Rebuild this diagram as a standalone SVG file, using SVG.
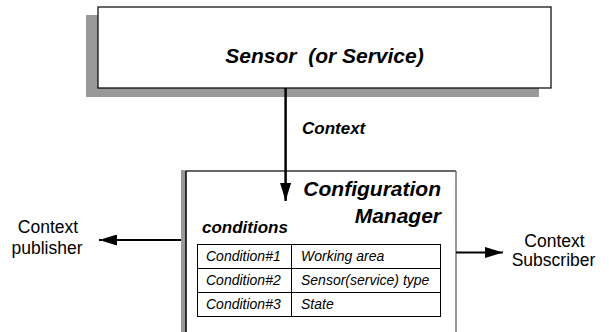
<svg xmlns="http://www.w3.org/2000/svg" width="609" height="332" viewBox="0 0 609 332">
<defs>
<style>
.bi{font-family:"Liberation Sans",Arial,sans-serif;font-weight:bold;font-style:italic;fill:#000}
.it{font-family:"Liberation Sans",Arial,sans-serif;font-style:italic;font-size:14px;fill:#000}
.rg{font-family:"Liberation Sans",Arial,sans-serif;font-size:17.5px;fill:#000}
.cell{fill:none;stroke:#000;stroke-width:1}
.conn{stroke:#000;stroke-width:2;fill:none}
</style>
<marker id="ah" viewBox="0 0 18 11" refX="18" refY="5.5" markerWidth="18" markerHeight="11" markerUnits="userSpaceOnUse" orient="auto">
<path d="M0,0 L18,5.5 L0,11 Z" fill="#000"/>
</marker>
</defs>
<rect width="609" height="332" fill="#fff"/>
<g id="sensor">
<rect x="86" y="15" width="453" height="82" fill="#999"/>
<rect x="98" y="7" width="453" height="81" fill="#fff" stroke="#000" stroke-width="1.2"/>
<text class="bi" x="324.5" y="63" font-size="21" text-anchor="middle" xml:space="preserve">Sensor  (or Service)</text>
</g>
<g id="manager">
<rect x="181" y="170" width="5" height="170" fill="#999"/>
<line x1="186" y1="171" x2="456" y2="171" stroke="#333" stroke-width="1.5"/>
<line x1="186" y1="171" x2="186" y2="340" stroke="#000" stroke-width="1.5"/>
<line x1="456" y1="171" x2="456" y2="340" stroke="#777" stroke-width="1.5"/>
<text class="bi" x="441" y="196" font-size="21" text-anchor="end">Configuration</text>
<text class="bi" x="441" y="223" font-size="21" text-anchor="end">Manager</text>
<text class="bi" x="202" y="233" font-size="17">conditions</text>
<rect class="cell" x="197.5" y="244.5" width="243" height="72"/>
<line class="cell" x1="197.5" y1="268.5" x2="440.5" y2="268.5"/>
<line class="cell" x1="197.5" y1="292.5" x2="440.5" y2="292.5"/>
<line class="cell" x1="291.5" y1="244.5" x2="291.5" y2="316.5"/>
<text class="it" x="206" y="261">Condition#1</text>
<text class="it" x="301" y="261">Working area</text>
<text class="it" x="206" y="285">Condition#2</text>
<text class="it" x="301" y="285">Sensor(service) type</text>
<text class="it" x="206" y="309">Condition#3</text>
<text class="it" x="301" y="309">State</text>
</g>
<g id="publisher">
<text class="rg" x="48" y="233" text-anchor="middle">Context</text>
<text class="rg" x="47" y="254" text-anchor="middle">publisher</text>
</g>
<g id="subscriber">
<text class="rg" x="554.5" y="247" text-anchor="middle">Context</text>
<text class="rg" x="553.5" y="266" text-anchor="middle">Subscriber</text>
</g>
<g id="connectors">
<line x1="285.6" y1="88" x2="285.6" y2="201" stroke="#000" stroke-width="2.5" marker-end="url(#ah)"/>
<text class="bi" x="302" y="134" font-size="17">Context</text>
<line class="conn" x1="181" y1="240" x2="99" y2="240" marker-end="url(#ah)"/>
<line class="conn" x1="456" y1="252.5" x2="503" y2="252.5" marker-end="url(#ah)"/>
</g>
</svg>
